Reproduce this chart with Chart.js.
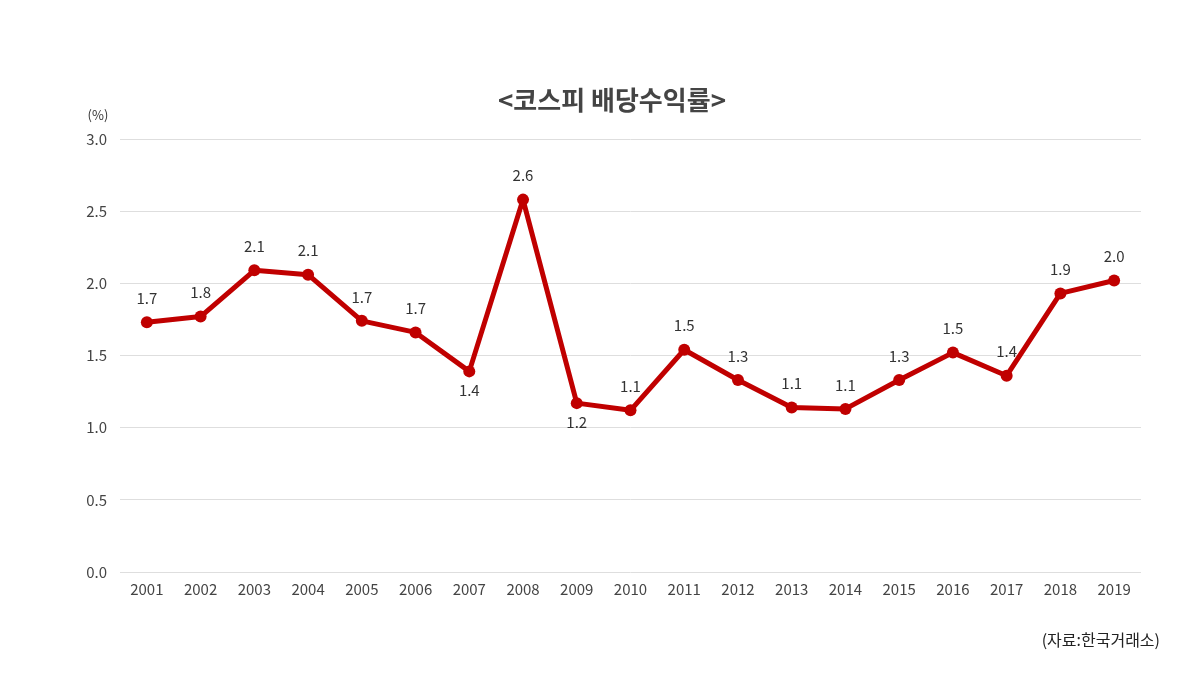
<!DOCTYPE html>
<html>
<head>
	<meta charset="utf-8">
	<title>코스피 배당수익률</title>
	<script src="https://cdn.jsdelivr.net/npm/chart.js@4.4.1/dist/chart.umd.min.js"></script>
	<style>
		html, body {
			margin: 0;
			padding: 0;
			background: #fff;
		}
		#wrap {
			position: relative;
			width: 1200px;
			height: 675px;
		}
	</style>
</head>
<body>
<div id="wrap">
	<canvas id="myChart" width="1200" height="675"></canvas>
</div>
<script>
	const years = ["2001", "2002", "2003", "2004", "2005", "2006", "2007", "2008", "2009", "2010",
		"2011", "2012", "2013", "2014", "2015", "2016", "2017", "2018", "2019"];
	const yields = [1.73, 1.77, 2.09, 2.06, 1.74, 1.66, 1.39, 2.58, 1.17, 1.12,
		1.54, 1.33, 1.14, 1.13, 1.33, 1.52, 1.36, 1.93, 2.02];
	const valueLabels = ["1.7", "1.8", "2.1", "2.1", "1.7", "1.7", "1.4", "2.6", "1.2", "1.1",
		"1.5", "1.3", "1.1", "1.1", "1.3", "1.5", "1.4", "1.9", "2.0"];
	const yTicks = [0, 0.5, 1.0, 1.5, 2.0, 2.5, 3.0];

	const FONT = '"Noto Sans CJK KR", "Noto Sans", sans-serif';
	const RED = "#c00000";
	// labels that sit under their point
	const below = [6, 8];

	const extras = {
		id: "extras",
		afterDatasetsDraw(chart) {
			const ctx = chart.ctx;
			const meta = chart.getDatasetMeta(0);
			ctx.save();
			ctx.font = "15px " + FONT;
			ctx.fillStyle = "#333";
			ctx.textAlign = "center";
			ctx.textBaseline = "middle";
			meta.data.forEach((pt, i) => {
				const dy = below.includes(i) ? 19 : -24;
				ctx.fillText(valueLabels[i], pt.x, pt.y + dy);
			});
			ctx.restore();
		},
		afterDraw(chart) {
			const ctx = chart.ctx;
			ctx.save();
			ctx.fillStyle = "#444";
			ctx.textAlign = "center";
			ctx.textBaseline = "middle";
			ctx.font = "bold 26px " + FONT;
			ctx.fillText("<코스피 배당수익률>", 612, 100);
			ctx.font = "13px " + FONT;
			ctx.fillStyle = "#333";
			ctx.fillText("(%)", 98, 115);
			ctx.textAlign = "right";
			ctx.font = "16px " + FONT;
			ctx.fillStyle = "#222";
			ctx.fillText("(자료:한국거래소)", 1160, 640);
			ctx.restore();
		}
	};

	const ctx = document.getElementById("myChart").getContext("2d");
	const myChart = new Chart(ctx, {
		type: "line",
		data: {
			labels: years,
			datasets: [{
				data: yields,
				borderColor: RED,
				backgroundColor: RED,
				borderWidth: 5,
				borderJoinStyle: "round",
				borderCapStyle: "round",
				pointRadius: 6,
				pointBackgroundColor: RED,
				pointBorderColor: RED,
				pointBorderWidth: 0,
				tension: 0
			}]
		},
		options: {
			responsive: false,
			animation: false,
			layout: {
				padding: {top: 139, left: 70, right: 59, bottom: 77}
			},
			plugins: {
				legend: {display: false},
				tooltip: {enabled: false}
			},
			scales: {
				x: {
					offset: true,
					grid: {display: false},
					border: {display: false},
					ticks: {
						color: "#444",
						font: {family: FONT, size: 15},
						padding: 0
					}
				},
				y: {
					min: 0,
					max: 3,
					afterBuildTicks(scale) {
						scale.ticks = yTicks.map(v => ({value: v}));
					},
					afterFit(scale) {
						scale.width = 50;
					},
					grid: {color: "#dedede", lineWidth: 1, drawTicks: false},
					border: {display: false},
					ticks: {
						color: "#444",
						font: {family: FONT, size: 15},
						padding: 13,
						callback: v => v.toFixed(1)
					}
				}
			}
		},
		plugins: [extras]
	});
</script>
</body>
</html>
